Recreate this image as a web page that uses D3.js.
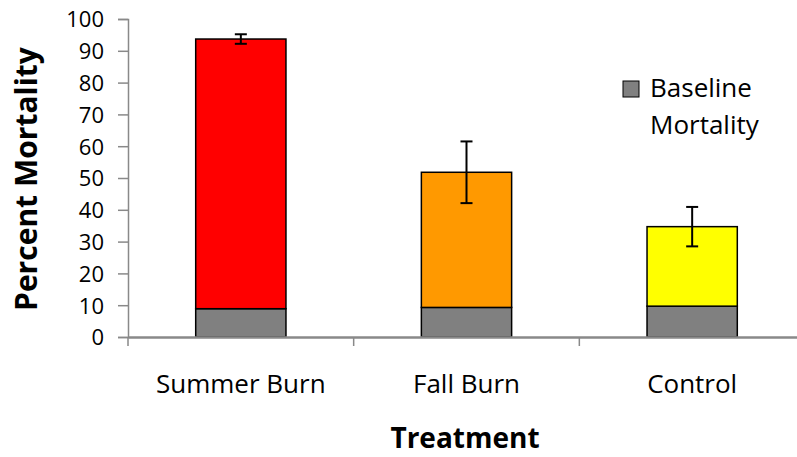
<!DOCTYPE html>
<html><head><meta charset="utf-8">
<script src="https://cdn.jsdelivr.net/npm/d3@7"></script>
<style>html,body{margin:0;padding:0;background:#fff;}svg{display:block;}</style>
</head><body>
<svg id="chart" width="797" height="457"></svg>
<script>
const categories = ["Summer Burn", "Fall Burn", "Control"];
const baselineValues = [8.9, 9.3, 9.7];
const totalValues = [93.7, 51.8, 34.7];
const errorValues = [1.5, 9.7, 6.2];
const treatmentColors = ["#ff0000", "#ff9900", "#ffff00"];
const yTicks = [0, 10, 20, 30, 40, 50, 60, 70, 80, 90, 100];
const legendLabel = ["Baseline", "Mortality"];

const svg = d3.select("#chart");
const font = "'Open Sans', sans-serif";
const x = d3.scaleBand().domain(categories).range([128, 805]).padding(0);
const y = d3.scaleLinear().domain([0, 100]).range([337, 19]);
const axisColor = "#898989";
const barW = x.bandwidth() * 0.4;

// Y axis
const yAxis = svg.append("g").attr("transform", "translate(128,0)")
  .call(d3.axisLeft(y).tickValues(yTicks).tickSize(10).tickPadding(14));
yAxis.select(".domain").attr("stroke", axisColor).attr("stroke-width", 1.5);
yAxis.selectAll(".tick line").attr("stroke", axisColor).attr("stroke-width", 1.5);
yAxis.selectAll(".tick text").attr("font-family", font).attr("font-size", 22).attr("fill", "#000").attr("dy", "0.36em");

// Bars
const data = categories.map((c, i) => ({c, b: baselineValues[i], t: totalValues[i], e: errorValues[i], col: treatmentColors[i]}));
const g = svg.append("g");
g.selectAll("rect.base").data(data).enter().append("rect")
  .attr("x", d => x(d.c) + (x.bandwidth() - barW) / 2)
  .attr("width", barW)
  .attr("y", d => y(d.b))
  .attr("height", d => y(0) - y(d.b))
  .attr("fill", "#808080").attr("stroke", "#000").attr("stroke-width", 1.5);
g.selectAll("rect.treat").data(data).enter().append("rect")
  .attr("x", d => x(d.c) + (x.bandwidth() - barW) / 2)
  .attr("width", barW)
  .attr("y", d => y(d.t))
  .attr("height", d => y(d.b) - y(d.t))
  .attr("fill", d => d.col).attr("stroke", "#000").attr("stroke-width", 1.5);

// X axis
const xAxis = svg.append("g").attr("transform", "translate(0,337)")
  .call(d3.axisBottom(x).tickSize(0).tickFormat(""));
xAxis.select(".domain").attr("stroke", axisColor).attr("stroke-width", 2.5);
const bounds = [...categories.map(c => x(c)), x.range()[1]];
svg.append("g").selectAll("line").data(bounds).enter().append("line")
  .attr("x1", d => d).attr("x2", d => d).attr("y1", 337).attr("y2", 346)
  .attr("stroke", axisColor).attr("stroke-width", 1.5);
svg.append("g").selectAll("text").data(categories).enter().append("text")
  .attr("x", d => x(d) + x.bandwidth() / 2).attr("y", 393)
  .attr("text-anchor", "middle").attr("font-family", font).attr("font-size", 26).attr("fill", "#000")
  .text(d => d);

// Error bars
const eb = svg.append("g").attr("stroke", "#000").attr("stroke-width", 2);
data.forEach(d => {
  const cx = x(d.c) + x.bandwidth() / 2;
  eb.append("line").attr("x1", cx).attr("x2", cx).attr("y1", y(d.t + d.e)).attr("y2", y(d.t - d.e));
  eb.append("line").attr("x1", cx - 6).attr("x2", cx + 6).attr("y1", y(d.t + d.e)).attr("y2", y(d.t + d.e));
  eb.append("line").attr("x1", cx - 6).attr("x2", cx + 6).attr("y1", y(d.t - d.e)).attr("y2", y(d.t - d.e));
});

// Legend
svg.append("rect").attr("x", 623).attr("y", 81).attr("width", 16).attr("height", 16)
  .attr("fill", "#808080").attr("stroke", "#000").attr("stroke-width", 1);
svg.append("text").attr("font-family", font).attr("font-size", 26).attr("fill", "#000")
  .selectAll("tspan").data(legendLabel).enter().append("tspan")
  .attr("x", 650).attr("y", (d, i) => 97 + i * 37).text(d => d);

// Axis titles
svg.append("text").attr("transform", "translate(37,179) rotate(-90)")
  .attr("text-anchor", "middle").attr("font-family", font).attr("font-weight", "bold")
  .attr("font-size", 30).attr("fill", "#000").text("Percent Mortality");
svg.append("text").attr("x", 465).attr("y", 448).attr("text-anchor", "middle")
  .attr("font-family", font).attr("font-weight", "bold").attr("font-size", 28).attr("fill", "#000")
  .text("Treatment");
</script>
</body></html>
